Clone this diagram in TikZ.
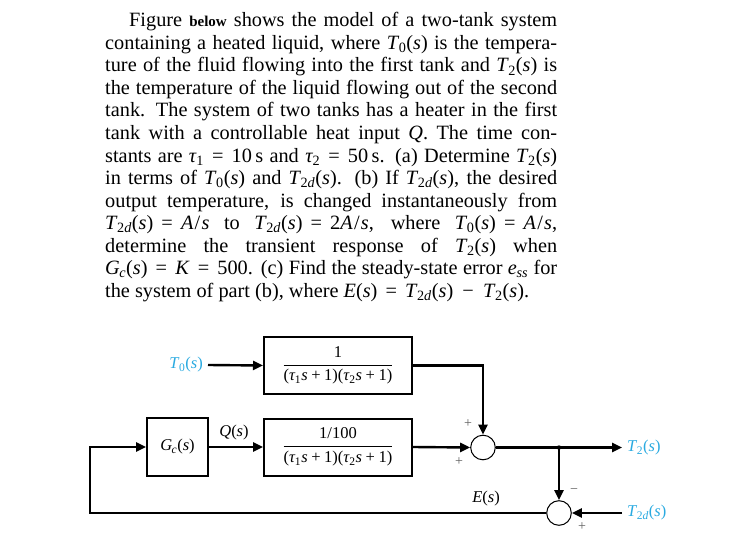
\documentclass[tikz,border=0pt]{standalone}
\usepackage{fontspec}
\setmainfont{Liberation Serif}
\usetikzlibrary{arrows.meta}
\definecolor{tblue}{RGB}{41,170,225}
\definecolor{sgn}{RGB}{95,95,95}
\newcommand\vi[1]{\textit{#1}}
\newcommand\sbs[1]{\kern-0.5pt\textsubscript{#1}}
\newcommand\Tz{\vi{T}\sbs{0}(\vi{s})}
\newcommand\Tt{\vi{T}\sbs{2}(\vi{s})}
\newcommand\Ttd{\vi{T}\sbs{2\vi{d}}(\vi{s})}
\newcommand\eqs{\hspace{0.4em}=\hspace{0.4em}}
\newcommand\As{\vi{A}\hspace{0.06em}/\hspace{0.06em}\vi{s}}
\newcommand\pl{\hspace{0.22em}+\hspace{0.22em}}
\newcommand\den{(\vi{τ}\sbs{1}\vi{s}\pl 1)(\vi{τ}\sbs{2}\vi{s}\pl 1)}
\tikzset{
  txt/.style={anchor=base west, inner sep=0pt, font=\fontsize{20.3}{22.5}\selectfont},
  blk/.style={draw, line width=2pt, inner sep=0pt, minimum width=148pt, minimum height=57pt, font=\fontsize{16.5}{18}\selectfont},
  sumc/.style={draw, circle, line width=1pt, minimum size=24.6pt, inner sep=0pt},
  lab/.style={inner sep=0pt, font=\fontsize{16.5}{18}\selectfont},
  sig/.style={inner sep=0pt, text=sgn, font=\fontsize{14}{16}\selectfont},
  conn/.style={line width=2.4pt, -{Triangle[length=10pt,width=9pt]}},
}
\begin{document}
\begin{tikzpicture}[x=1pt, y=-1pt]
\fill[white] (0,0) rectangle (753,535);
\useasboundingbox (0,0) rectangle (753,535);
% paragraph
\node[txt] (l1) at (129,27) {\hbox to 428pt{Figure {\fontsize{15}{16}\selectfont\bfseries below} shows the model of a two-tank system}};
\node[txt] (l2) at (105,49.5) {\hbox to 452pt{containing a heated liquid, where \Tz{} is the tempera-}};
\node[txt] (l3) at (105,72) {\hbox to 452pt{ture of the fluid flowing into the first tank and \Tt{} is}};
\node[txt] (l4) at (105,94.5) {\hbox to 452pt{the temperature of the liquid flowing out of the second}};
\node[txt] (l5) at (105,117) {\hbox to 452pt{tank. The system of two tanks has a heater in the first}};
\node[txt] (l6) at (105,139.5) {\hbox to 452pt{tank with a controllable heat input \vi{Q}. The time con-}};
\node[txt] (l7) at (105,162) {\hbox to 452pt{stants are \vi{τ}\sbs{1}\eqs 10\,s and \vi{τ}\sbs{2}\eqs 50\,s. (a) Determine \Tt}};
\node[txt] (l8) at (105,184.5) {\hbox to 452pt{in terms of \Tz{} and \Ttd. (b) If \Ttd, the desired}};
\node[txt] (l9) at (105,207) {\hbox to 452pt{output temperature, is changed instantaneously from}};
\node[txt] (l10) at (105,229.5) {\hbox to 452pt{\Ttd\eqs\As{} to \Ttd\eqs 2\As, where \Tz\eqs\As,}};
\node[txt] (l11) at (105,252) {\hbox to 452pt{determine the transient response of \Tt{} when}};
\node[txt] (l12) at (105,274.5) {\hbox to 452pt{\vi{G}\sbs{\vi{c}}(\vi{s})\eqs\vi{K}\eqs 500. (c) Find the steady-state error \vi{e}\sbs{\vi{ss}} for}};
\node[txt] (l13) at (105,297) {the system of part (b), where \vi{E}(\vi{s})\eqs\Ttd\hspace{0.45em}−\hspace{0.45em}\Tt.};
% blocks
\node[blk] (b1) at (338,365.5) {$\displaystyle\frac{\mbox{1}}{\mbox{\den}}$};
\node[blk] (b2) at (338,447) {$\displaystyle\frac{\mbox{1/100}}{\mbox{\den}}$};
\node[blk, minimum width=61pt, minimum height=58pt] (gc) at (177.5,447) {\vi{G}\sbs{\vi{c}}(\vi{s})};
\node[sumc] (s1) at (483,447.5) {};
\node[sumc] (s2) at (559,513) {};
% labels
\node[lab, text=tblue, anchor=east, inner xsep=5pt] (t0) at (208,365) {\Tz};
\node[lab, text=tblue, anchor=west, inner xsep=5pt] (t2) at (622,447.5) {\Tt};
\node[lab, text=tblue, anchor=west, inner xsep=5pt] (t2d) at (622,513) {\Ttd};
\node[lab] (q) at (234,433) {\vi{Q}(\vi{s})};
\node[lab] (e) at (486,499) {\vi{E}(\vi{s})};
\node[sig] (p1) at (468,424) {+};
\node[sig] (p2) at (459,462) {+};
\node[sig] (m3) at (574,491) {−};
\node[sig] (p4) at (582,527) {+};
% connectors
\coordinate (br) at (559,447.5);
\coordinate (fbl) at (90,513);
\draw[conn] (t0.east) -- (b1.west);
\draw[conn] (b1.east) -| (s1.north);
\draw[conn] (b2.east) -- (s1.west);
\draw[conn] (s1.east) -- (t2.west);
\fill (br) circle (2.2pt);
\draw[conn] (br) -- (s2.north);
\draw[conn] (t2d.west) -- (s2.east);
\draw[conn] (s2.west) -- (fbl) |- (gc.west);
\draw[conn] (gc.east) -- (b2.west);
\end{tikzpicture}
\end{document}
